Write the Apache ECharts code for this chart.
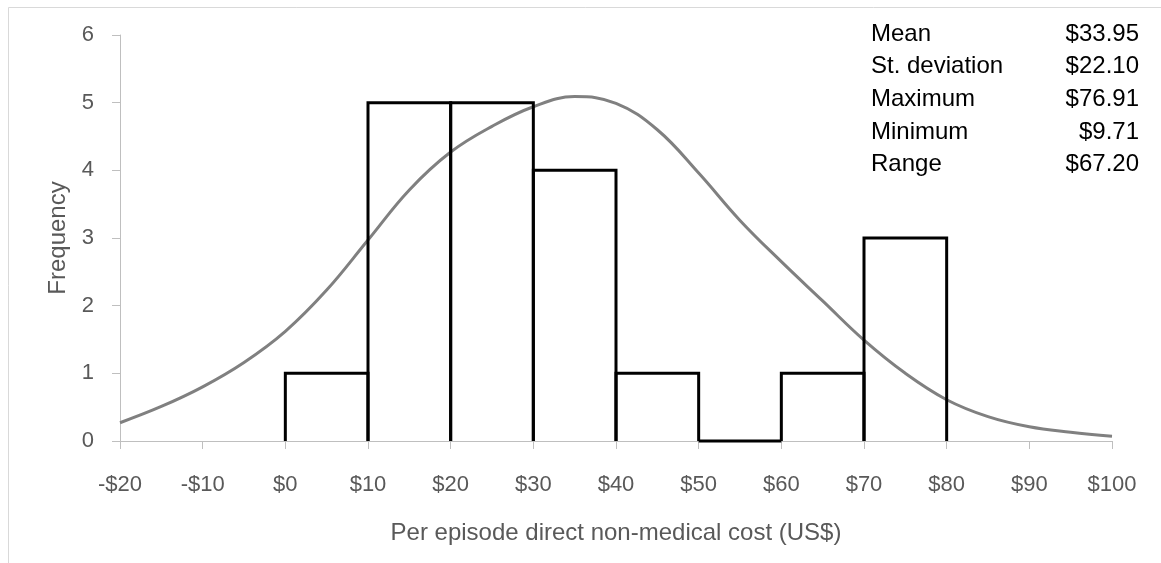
<!DOCTYPE html>
<html>
<head>
<meta charset="utf-8">
<script src="https://cdn.jsdelivr.net/npm/echarts@6/dist/echarts.min.js"></script>
<style>
html,body{margin:0;padding:0;background:#fff;}
#chart{width:1161px;height:563px;}
</style>
</head>
<body>
<div id="chart"></div>
<script>
// ---- data ----
const binStarts = [0, 10, 20, 30, 40, 50, 60, 70];
const binEnds = [10, 20, 30, 40, 50, 60, 70, 80];
const frequencies = [1, 5, 5, 4, 1, 0, 1, 3];
const curveX = [-20, -15, -10, -5, 0, 5, 10, 15, 20, 25, 30, 35, 40, 45, 50, 55, 60, 65, 70, 75, 80, 85, 90, 95, 100];
const curveY = [0.27, 0.51, 0.80, 1.16, 1.62, 2.23, 2.97, 3.71, 4.27, 4.65, 4.94, 5.09, 4.99, 4.60, 3.96, 3.26, 2.65, 2.07, 1.49, 1.00, 0.61, 0.36, 0.21, 0.13, 0.07];
const xTickLabels = ['-$20', '-$10', '$0', '$10', '$20', '$30', '$40', '$50', '$60', '$70', '$80', '$90', '$100'];
const yTickLabels = ['0', '1', '2', '3', '4', '5', '6'];
const statLabels = ['Mean', 'St. deviation', 'Maximum', 'Minimum', 'Range'];
const statValues = ['$33.95', '$22.10', '$76.91', '$9.71', '$67.20'];
const xAxisTitle = 'Per episode direct non-medical cost (US$)';
const yAxisTitle = 'Frequency';

const FONT = '"Liberation Sans", Arial, sans-serif';
const xMin = -20, xMax = 100, xStep = 10;

const histData = binStarts.map((s, i) => [s, binEnds[i], frequencies[i]]);
const curveData = curveX.map((x, i) => [x, curveY[i]]);

const statGraphics = [];
statLabels.forEach((lab, i) => {
  statGraphics.push({
    type: 'text', left: 871, top: 22 + i * 32.7,
    style: { text: lab, font: '24px ' + FONT, fill: '#000' }
  });
  statGraphics.push({
    type: 'text', right: 1161 - 1139, top: 22 + i * 32.7,
    style: { text: statValues[i], font: '24px ' + FONT, fill: '#000', textAlign: 'right' }
  });
});

const chart = echarts.init(document.getElementById('chart'), null, { renderer: 'canvas' });
chart.setOption({
  backgroundColor: '#fff',
  animation: false,
  textStyle: { fontFamily: FONT },
  grid: { left: 120, right: 49, top: 35, bottom: 122, containLabel: false },
  graphic: [
    { type: 'rect', left: 6, top: 5, shape: { x: 0, y: 0, width: 1200, height: 600 },
      style: { fill: null, stroke: '#d9d9d9', lineWidth: 1 }, z: -10 }
  ].concat(statGraphics),
  xAxis: {
    type: 'value', min: xMin, max: xMax, interval: xStep,
    name: xAxisTitle, nameLocation: 'middle', nameGap: 80,
    nameTextStyle: { fontSize: 24, color: '#595959', fontFamily: FONT },
    axisLine: { show: true, onZero: false, lineStyle: { color: '#bfbfbf', width: 1 } },
    axisTick: { show: true, length: 8, lineStyle: { color: '#bfbfbf' } },
    splitLine: { show: false },
    axisLabel: {
      fontSize: 22, color: '#595959', margin: 33, fontFamily: FONT,
      formatter: v => xTickLabels[Math.round((v - xMin) / xStep)]
    }
  },
  yAxis: {
    type: 'value', min: 0, max: 6, interval: 1,
    name: yAxisTitle, nameLocation: 'middle', nameGap: 44,
    nameTextStyle: { fontSize: 24, color: '#595959', fontFamily: FONT },
    axisLine: { show: true, onZero: false, lineStyle: { color: '#bfbfbf', width: 1 } },
    axisTick: { show: true, length: 8, lineStyle: { color: '#bfbfbf' } },
    splitLine: { show: false },
    axisLabel: {
      fontSize: 22, color: '#595959', margin: 26, fontFamily: FONT,
      formatter: v => yTickLabels[Math.round(v)]
    }
  },
  series: [
    {
      type: 'line', data: curveData, smooth: 0.4, symbol: 'none',
      lineStyle: { color: '#808080', width: 3 }, z: 2
    },
    {
      type: 'custom', data: histData, z: 3,
      encode: { x: [0, 1], y: 2 },
      renderItem: function (params, api) {
        const x0 = api.value(0), x1 = api.value(1), h = api.value(2);
        const pts = [api.coord([x0, 0]), api.coord([x0, h]), api.coord([x1, h]), api.coord([x1, 0])];
        return {
          type: 'polyline', shape: { points: pts },
          style: { fill: null, stroke: '#000', lineWidth: 3 }
        };
      }
    }
  ]
});
</script>
</body>
</html>
